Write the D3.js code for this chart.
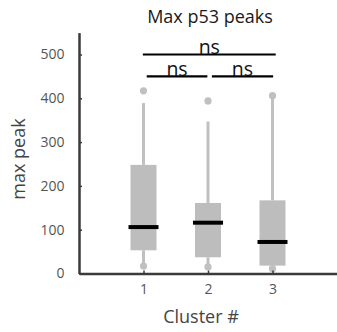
<!DOCTYPE html>
<html>
<head>
    <meta charset="utf-8">
    <title>Max p53 peaks</title>
    <script src="https://d3js.org/d3.v7.min.js"></script>
    <style>
        body { margin: 0; background: #fff; }
        text { font-family: "Open Sans", "Noto Sans", sans-serif; }
    </style>
</head>
<body>
    <div id="chart"></div>
    <script>
        // box plot values
        var clusters = [1, 2, 3];
        var q1 = [53, 37, 18];
        var medians = [106, 116, 72];
        var q3 = [248, 161, 167];
        var whiskerLow = [17, 15, 11];
        var whiskerHigh = [389, 347, 406];
        var outliersHigh = [417, 394, 406];
        var outliersLow = [17, 15, 11];
        var yTicks = [0, 100, 200, 300, 400, 500];

        // significance brackets (cluster span + height on the y scale)
        var sigFrom = [1.05, 2.06, 0.99];
        var sigTo = [1.99, 3.01, 3.05];
        var sigLevel = [450, 450, 500];
        var sigLabel = ["ns", "ns", "ns"];

        var svg = d3.select("#chart").append("svg")
            .attr("width", 337)
            .attr("height", 332);

        var x = d3.scaleLinear().domain([0, 4]).range([79, 337]);
        var y = d3.scaleLinear().domain([0, 550]).range([273.5, 32.6]);

        var boxW = 26, medW = 30;

        // whiskers
        svg.selectAll(".whisk-hi").data(clusters).enter().append("line")
            .attr("x1", d => x(d)).attr("x2", d => x(d))
            .attr("y1", (d, i) => y(q3[i])).attr("y2", (d, i) => y(whiskerHigh[i]))
            .attr("stroke", "#c0c0c0").attr("stroke-width", 3);
        svg.selectAll(".whisk-lo").data(clusters).enter().append("line")
            .attr("x1", d => x(d)).attr("x2", d => x(d))
            .attr("y1", (d, i) => y(q1[i])).attr("y2", (d, i) => y(whiskerLow[i]))
            .attr("stroke", "#c0c0c0").attr("stroke-width", 3);

        // outlier dots
        svg.selectAll(".out-hi").data(clusters).enter().append("circle")
            .attr("cx", d => x(d)).attr("cy", (d, i) => y(outliersHigh[i]))
            .attr("r", 3.6).attr("fill", "#c0c0c0");
        svg.selectAll(".out-lo").data(clusters).enter().append("circle")
            .attr("cx", d => x(d)).attr("cy", (d, i) => y(outliersLow[i]))
            .attr("r", 3.6).attr("fill", "#c0c0c0");

        // boxes
        svg.selectAll(".box").data(clusters).enter().append("rect")
            .attr("x", d => x(d) - boxW / 2)
            .attr("y", (d, i) => y(q3[i]))
            .attr("width", boxW)
            .attr("height", (d, i) => y(q1[i]) - y(q3[i]))
            .attr("fill", "#bdbdbd");

        // medians
        svg.selectAll(".med").data(clusters).enter().append("line")
            .attr("x1", d => x(d) - medW / 2).attr("x2", d => x(d) + medW / 2)
            .attr("y1", (d, i) => y(medians[i])).attr("y2", (d, i) => y(medians[i]))
            .attr("stroke", "#000").attr("stroke-width", 4);

        // axes
        var yAxis = svg.append("g")
            .attr("transform", "translate(" + x(0) + ",0)")
            .call(d3.axisLeft(y).tickValues(yTicks).tickSize(-3).tickSizeOuter(0).tickPadding(14.5));
        var xAxis = svg.append("g")
            .attr("transform", "translate(0," + y(0) + ")")
            .call(d3.axisBottom(x).tickValues(clusters).tickFormat(d3.format("d"))
                .tickSize(-3).tickSizeOuter(0).tickPadding(11));

        [yAxis, xAxis].forEach(function (g) {
            g.select(".domain").attr("stroke", "#3a3a3a").attr("stroke-width", 2.5);
            g.selectAll(".tick line").attr("stroke", "#3a3a3a").attr("stroke-width", 1.5);
            g.selectAll(".tick text").attr("fill", "#555").style("font-size", "14px")
                .style("font-family", "'Open Sans', sans-serif");
        });

        // significance brackets
        sigLevel.forEach(function (lv, i) {
            svg.append("line")
                .attr("x1", x(sigFrom[i])).attr("x2", x(sigTo[i]))
                .attr("y1", y(lv)).attr("y2", y(lv))
                .attr("stroke", "#000").attr("stroke-width", 2.2);
            svg.append("text")
                .attr("x", (x(sigFrom[i]) + x(sigTo[i])) / 2)
                .attr("y", y(lv) - 0.5)
                .attr("text-anchor", "middle")
                .attr("fill", "#111")
                .style("font-size", "19.5px")
                .text(sigLabel[i]);
        });

        // title and axis labels
        svg.append("text")
            .attr("x", 210).attr("y", 22.7)
            .attr("text-anchor", "middle")
            .attr("fill", "#1a1a1a")
            .style("font-size", "18px")
            .text("Max p53 peaks");

        svg.append("text")
            .attr("transform", "translate(25,159) rotate(-90)")
            .attr("text-anchor", "middle")
            .attr("fill", "#444")
            .style("font-size", "18px")
            .text("max peak");

        svg.append("text")
            .attr("x", 201).attr("y", 323)
            .attr("text-anchor", "middle")
            .attr("fill", "#444")
            .style("font-size", "18px")
            .text("Cluster #");
    </script>
</body>
</html>
